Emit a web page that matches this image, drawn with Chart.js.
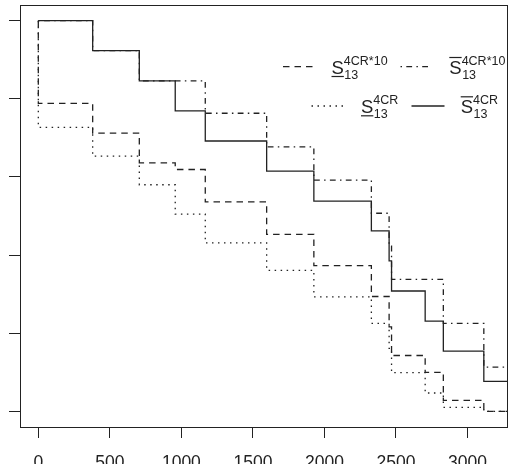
<!DOCTYPE html>
<html>
<head>
<meta charset="utf-8">
<script src="https://cdn.jsdelivr.net/npm/chart.js@4"></script>
<style>
  html, body { margin: 0; padding: 0; background: #fff; overflow: hidden; }
  .chart_box { position: relative; width: 512px; height: 480px; }
</style>
</head>
<body>
<div class="chart_box"><canvas id="chart_steps"></canvas></div>
<script>
//! Data
// time where each level starts
const times = [0, 380, 706, 957, 1167, 1596, 1926, 2328, 2452, 2469, 2704, 2831, 3114];

const lower4CR10 = [0.788, 0.712, 0.636, 0.619, 0.536, 0.453, 0.373, 0.294, 0.216, 0.143, 0.100, 0.028, 0.000];
const upper4CR10 = [1.000, 0.923, 0.846, 0.846, 0.763, 0.677, 0.592, 0.507, 0.423, 0.338, 0.338, 0.225, 0.113];
const lower4CR = [0.727, 0.653, 0.580, 0.505, 0.431, 0.361, 0.293, 0.225, 0.161, 0.099, 0.047, 0.010, 0.000];
const upper4CR = [1.000, 0.923, 0.846, 0.769, 0.692, 0.615, 0.538, 0.462, 0.385, 0.308, 0.231, 0.154, 0.077];
const startLevel = 1;

const xTicks = [0, 500, 1000, 1500, 2000, 2500, 3000];
const xTickLabels = ["0", "500", "1000", "1500", "2000", "2500", "3000"];
const yTicks = [0, 0.2, 0.4, 0.6, 0.8, 1];

const xMin = -128, xMax = 3276;
const yMin = -0.04, yMax = 1.04;

const fontFamily = "'Liberation Sans', Arial, sans-serif";
const ink = "#222";

function toSteps(values, fromStart) {
  let pts = [];
  if (fromStart) pts.push({ x: times[0], y: startLevel });
  values.forEach((v, i) => pts.push({ x: times[i], y: v }));
  pts.push({ x: xMax, y: values[values.length - 1] });
  return pts;
}

const dashes = {
  dashed: [6.5, 5],
  dotdash: [1.5, 4.3, 5.8, 4.3],
  dotted: [1.5, 4.5],
  solid: [],
};

//! Box round the plot
const plotBox = {
  id: "plotBox",
  afterDraw(chart) {
    const { ctx, chartArea: a } = chart;
    ctx.save();
    ctx.strokeStyle = ink;
    ctx.lineWidth = 1;
    ctx.strokeRect(Math.round(a.left) + 0.5, Math.round(a.top) + 0.5,
      Math.round(a.right - a.left), Math.round(a.bottom - a.top));
    ctx.restore();
  },
};

//! Legend with S, bars and sub/superscripts
const mathLegend = {
  id: "mathLegend",
  afterDraw(chart) {
    const ctx = chart.ctx;
    const items = [
      { dash: dashes.dashed, x1: 283, x2: 313, x: 331.5, base: 74, sup: "4CR*10", bar: "under" },
      { dash: dashes.dotdash, x1: 400.5, x2: 429, x: 449.3, base: 74, sup: "4CR*10", bar: "over" },
      { dash: dashes.dotted, x1: 311.5, x2: 343.5, x: 361, base: 113.3, sup: "4CR", bar: "under" },
      { dash: dashes.solid, x1: 411.5, x2: 444.5, x: 460.7, base: 113.3, sup: "4CR", bar: "over" },
    ];
    ctx.save();
    items.forEach((it) => {
      ctx.strokeStyle = ink;
      ctx.lineWidth = 1.3;
      ctx.setLineDash(it.dash);
      ctx.beginPath();
      ctx.moveTo(it.x1, it.base - 7.3);
      ctx.lineTo(it.x2, it.base - 7.3);
      ctx.stroke();
      ctx.setLineDash([]);

      ctx.fillStyle = ink;
      ctx.textBaseline = "alphabetic";
      ctx.textAlign = "left";
      ctx.font = "18.5px " + fontFamily;
      ctx.fillText("S", it.x, it.base);
      let sw = ctx.measureText("S").width;

      ctx.lineWidth = 1.2;
      ctx.beginPath();
      if (it.bar === "under") {
        ctx.moveTo(it.x, it.base + 2.5);
        ctx.lineTo(it.x + sw, it.base + 2.5);
      } else {
        ctx.moveTo(it.x, it.base - 16.5);
        ctx.lineTo(it.x + sw, it.base - 16.5);
      }
      ctx.stroke();

      ctx.font = "12.5px " + fontFamily;
      ctx.fillText(it.sup, it.x + sw, it.base - 9);
      ctx.fillText("13", it.x + sw + 0.5, it.base + 4.5);
    });
    ctx.restore();
  },
};

//! Chart
let chartSteps = document.getElementById("chart_steps");

let lineStyle = {
  borderColor: ink,
  borderWidth: 1.3,
  pointRadius: 0,
  fill: false,
  stepped: true,
};

new Chart(chartSteps, {
  type: "line",
  data: {
    datasets: [
      { ...lineStyle, label: "lower 4CR*10", data: toSteps(lower4CR10, true), borderDash: dashes.dashed },
      { ...lineStyle, label: "upper 4CR*10", data: toSteps(upper4CR10, false), borderDash: dashes.dotdash },
      { ...lineStyle, label: "lower 4CR", data: toSteps(lower4CR, true), borderDash: dashes.dotted },
      { ...lineStyle, label: "upper 4CR", data: toSteps(upper4CR, false) },
    ],
  },
  options: {
    responsive: true,
    maintainAspectRatio: false,
    animation: false,
    layout: {
      padding: { top: 5, right: 5, left: 0, bottom: 0 },
    },
    plugins: {
      legend: { display: false },
      tooltip: { enabled: false },
    },
    scales: {
      x: {
        type: "linear",
        min: xMin,
        max: xMax,
        afterBuildTicks: (axis) => {
          axis.ticks = xTicks.map((v) => ({ value: v }));
        },
        afterFit: (axis) => {
          axis.height = 53;
        },
        ticks: {
          autoSkip: false,
          maxRotation: 0,
          padding: 15,
          color: ink,
          font: { family: fontFamily, size: 17.5 },
          callback: (v, i) => xTickLabels[i],
        },
        grid: {
          drawOnChartArea: false,
          tickLength: 11,
          color: ink,
          lineWidth: 1,
        },
        border: { display: false },
      },
      y: {
        type: "linear",
        min: yMin,
        max: yMax,
        afterBuildTicks: (axis) => {
          axis.ticks = yTicks.map((v) => ({ value: v }));
        },
        afterFit: (axis) => {
          axis.width = 20;
        },
        ticks: { display: false },
        grid: {
          drawOnChartArea: false,
          tickLength: 11,
          color: ink,
          lineWidth: 1,
        },
        border: { display: false },
      },
    },
  },
  plugins: [plotBox, mathLegend],
});
</script>
</body>
</html>
